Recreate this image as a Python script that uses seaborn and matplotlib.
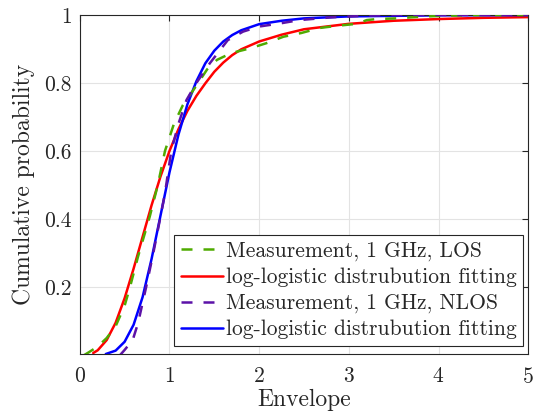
import matplotlib
matplotlib.use("Agg")
import matplotlib.pyplot as plt
import seaborn as sns
import pandas as pd

# Measurement, 1 GHz, LOS
los_meas_x = [0.05, 0.1, 0.2, 0.3, 0.4, 0.5, 0.56, 0.65, 0.78, 0.87, 0.95, 1.05, 1.15, 1.23, 1.32,
              1.42, 1.53, 1.69, 1.9, 2.08, 2.27, 2.47, 2.68, 2.9, 3.09, 3.2, 3.31, 3.53, 3.8, 4.1, 4.5, 5.0]
los_meas_y = [0.0, 0.008, 0.025, 0.05, 0.085, 0.145, 0.2, 0.29, 0.407, 0.5, 0.6, 0.68, 0.735, 0.765, 0.8,
              0.84, 0.868, 0.888, 0.902, 0.917, 0.936, 0.947, 0.962, 0.969, 0.974, 0.985, 0.988, 0.99, 0.995, 0.998, 1.0, 1.0]

# log-logistic fit, LOS
los_fit_x = [0.15, 0.2, 0.3, 0.4, 0.5, 0.6, 0.7, 0.8, 0.9, 1.0, 1.1, 1.2, 1.3, 1.4, 1.5, 1.6, 1.7, 1.8,
             2.0, 2.25, 2.5, 3.0, 3.5, 4.0, 4.5, 5.0]
los_fit_y = [0.006, 0.014, 0.044, 0.095, 0.167, 0.254, 0.347, 0.44, 0.525, 0.6, 0.664, 0.718, 0.762, 0.799,
             0.833, 0.86, 0.882, 0.899, 0.922, 0.942, 0.958, 0.974, 0.983, 0.988, 0.9916, 0.9937]

# Measurement, 1 GHz, NLOS
nlos_meas_x = [0.45, 0.5, 0.59, 0.65, 0.74, 0.82, 0.9, 0.95, 1.02, 1.1, 1.19, 1.3, 1.45, 1.55, 1.65,
               1.82, 2.0, 2.23, 2.45, 2.8, 3.2, 3.6, 5.0]
nlos_meas_y = [0.0, 0.015, 0.044, 0.094, 0.2, 0.3, 0.407, 0.476, 0.6, 0.68, 0.75, 0.8, 0.858, 0.892, 0.926,
               0.951, 0.966, 0.975, 0.985, 0.993, 0.998, 1.0, 1.0]

# log-logistic fit, NLOS
nlos_fit_x = [0.29, 0.4, 0.5, 0.6, 0.7, 0.8, 0.9, 1.0, 1.1, 1.2, 1.3, 1.4, 1.5, 1.6, 1.7, 1.8, 2.0,
              2.25, 2.5, 3.0, 4.0, 5.0]
nlos_fit_y = [0.003, 0.013, 0.039, 0.089, 0.17, 0.282, 0.41, 0.537, 0.648, 0.737, 0.805, 0.858, 0.895,
              0.922, 0.941, 0.955, 0.973, 0.983, 0.99, 0.9958, 0.999, 0.9997]

labels = ["Measurement, 1 GHz, LOS", "log-logistic distrubution fitting",
          "Measurement, 1 GHz, NLOS", "log-logistic distrubution fitting"]
colors = ["#4fab00", "#ff0000", "#5c12a8", "#0000ff"]
x_ticks = [0, 1, 2, 3, 4, 5]
y_ticks = [0.2, 0.4, 0.6, 0.8, 1.0]
y_tick_labels = ["0.2", "0.4", "0.6", "0.8", "1"]

sns.set_theme(style="whitegrid")
plt.rcParams["font.family"] = ["cmr10", "DejaVu Serif"]
plt.rcParams["axes.formatter.use_mathtext"] = True

fig = plt.figure(figsize=(5.39, 4.16), dpi=100)
ax = fig.add_axes([0.148, 0.149, 0.832, 0.815])

series = [(los_meas_x, los_meas_y), (los_fit_x, los_fit_y),
          (nlos_meas_x, nlos_meas_y), (nlos_fit_x, nlos_fit_y)]
for i, (xs, ys) in enumerate(series):
    df = pd.DataFrame({"x": xs, "y": ys})
    dashed = i in (0, 2)
    sns.lineplot(data=df, x="x", y="y", ax=ax, color=colors[i], lw=1.8, sort=False,
                 estimator=None, label=labels[i], zorder=3 if dashed else 2)
    if dashed:
        ax.lines[-1].set_dashes((4.4, 4.4))

ax.set_xlim(0, 5)
ax.set_ylim(0.003, 1)
ax.set_xticks(x_ticks)
ax.set_yticks(y_ticks)
ax.set_yticklabels(y_tick_labels)
ax.grid(True, color="#e3e3e3", lw=0.8)
for s in ax.spines.values():
    s.set_color("#262626")
    s.set_linewidth(0.8)
ax.tick_params(direction="in", length=4, width=0.8, color="#262626", labelsize=15.5,
               top=True, right=True, labelcolor="#262626")
ax.tick_params(axis="x", pad=9)
ax.tick_params(axis="y", pad=6)
ax.set_xlabel("Envelope", fontsize=17, color="#262626", labelpad=2)
ax.set_ylabel("Cumulative probability", fontsize=17, color="#262626", labelpad=6)

leg = ax.legend(loc="lower right", bbox_to_anchor=(0.989, 0.024), fontsize=15.5, frameon=True,
                fancybox=False, handlelength=1.95, handletextpad=0.15, borderpad=0.3,
                labelspacing=0.3, borderaxespad=0)
leg.get_frame().set_edgecolor("#262626")
leg.get_frame().set_linewidth(0.8)
leg.get_frame().set_alpha(1)

fig.savefig("out.png", dpi=100)
